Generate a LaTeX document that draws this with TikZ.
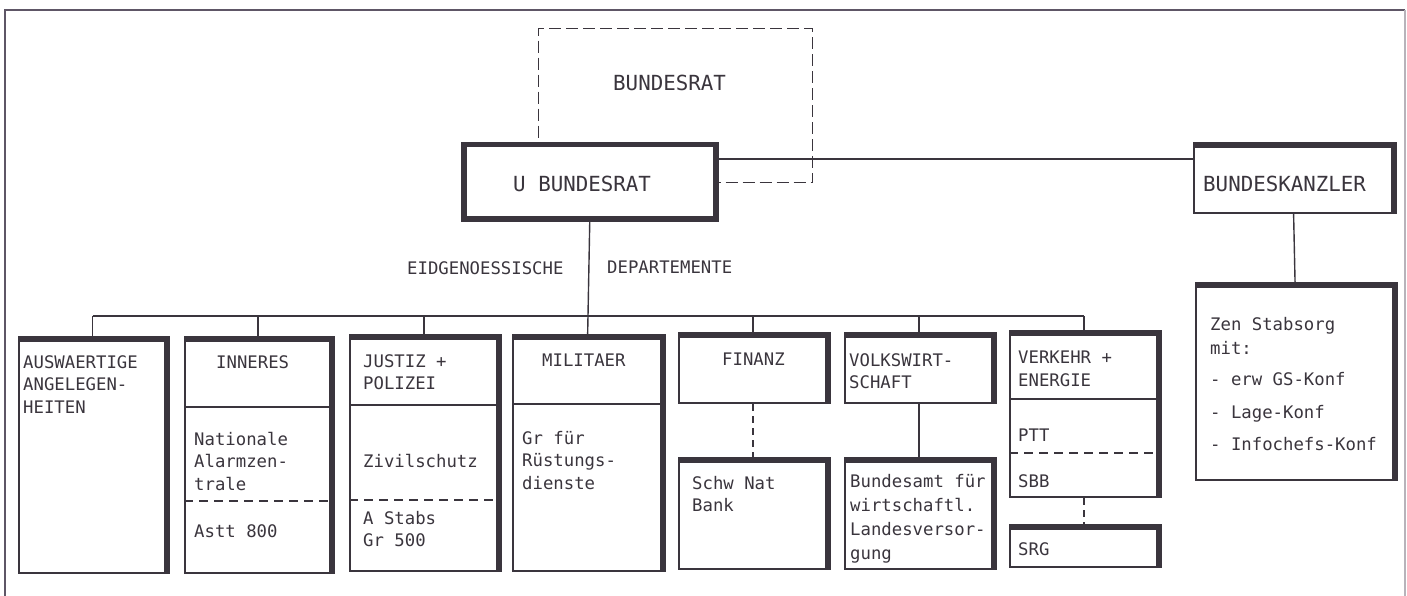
\documentclass[tikz,border=0pt]{standalone}
\usepackage{fontspec}
\setmonofont{DejaVu Sans Mono}
\usepackage{xcolor}
\usepackage{tikz}

\definecolor{ink}{HTML}{3A353D}
\definecolor{framegray}{HTML}{5E5666}

\begin{document}
\begin{tikzpicture}[x=1pt, y=-1pt,
  box/.style={draw=ink, line width=2.2pt, fill=white, inner sep=0pt, anchor=north west},
  heavy/.style={draw=ink, line width=5.5pt},
  link/.style={draw=ink, line width=1.4pt},
  split/.style={draw=ink, line width=1.6pt, dash pattern=on 9pt off 6pt},
  big/.style={anchor=north west, inner sep=0pt, text=ink, font=\ttfamily\fontsize{20.8}{25}\selectfont},
  small/.style={anchor=north west, inner sep=0pt, text=ink, align=left, font=\ttfamily\fontsize{17.3}{22.5}\selectfont}]
  \useasboundingbox (0,0) rectangle (1407,596);
  % frame of the page
  \draw[framegray, line width=1.3pt] (5,596) -- (5,10) -- (1405,10);
  \draw[framegray!45, line width=1.1pt] (1405,10) -- (1405,596);
  % Bundesrat, partly hidden behind the U Bundesrat
  \node[box, draw=ink, line width=1.4pt, dash pattern=on 12pt off 5pt, fill=none,
    minimum width=274pt, minimum height=154pt] (br) at (538,28) {};
  \coordinate (tie) at (0,159);
  \coordinate (bus) at (0,316);
  % the boxes
  \node[box, line width=5.5pt, minimum width=252pt, minimum height=74pt] (ubr) at (461,142) {};
  \node[box, minimum width=199pt, minimum height=67pt] (kanzler) at (1193,145) {};
  \node[box, minimum width=198pt, minimum height=194pt] (stabsorg) at (1195,285) {};
  \node[box, minimum width=147pt, minimum height=233pt] (ausw) at (18,339) {};
  \node[box, minimum width=146pt, minimum height=67pt] (inneresHead) at (184,339) {};
  \node[box, minimum width=146pt, minimum height=166pt] (inneresBody) at (184,406) {};
  \node[box, minimum width=148pt, minimum height=67pt] (justizHead) at (349,337) {};
  \node[box, minimum width=148pt, minimum height=166pt] (justizBody) at (349,404) {};
  \node[box, minimum width=149pt, minimum height=66pt] (militaerHead) at (512,337) {};
  \node[box, minimum width=149pt, minimum height=167pt] (militaerBody) at (512,403) {};
  \node[box, minimum width=148pt, minimum height=67pt] (finanzHead) at (678,335) {};
  \node[box, minimum width=148pt, minimum height=108pt] (snb) at (678,460) {};
  \node[box, minimum width=148pt, minimum height=67pt] (volkswHead) at (844,335) {};
  \node[box, minimum width=148pt, minimum height=108pt] (bfwl) at (844,460) {};
  \node[box, minimum width=148pt, minimum height=65pt] (verkehrHead) at (1009,333) {};
  \node[box, minimum width=148pt, minimum height=98pt] (verkehrBody) at (1009,398) {};
  \node[box, minimum width=148pt, minimum height=39pt] (srg) at (1009,527) {};
  % connectors
  \draw[link] (ubr.east |- tie) -- (kanzler.west |- tie);
  \draw[link] (kanzler.south) -- (stabsorg.north);
  \draw[link] (ausw.north |- bus) -- (verkehrHead.north |- bus);
  \draw[link] (ubr.south) -- (militaerHead.north);
  \foreach \d in {ausw, inneresHead, justizHead, finanzHead, volkswHead, verkehrHead}
    \draw[link] (\d.north |- bus) -- (\d.north);
  \draw[link, dash pattern=on 7pt off 5pt] (finanzHead.south) -- (snb.north);
  \draw[link] (volkswHead.south) -- (bfwl.north);
  \draw[link, dash pattern=on 7pt off 5pt] (verkehrBody.south) -- (srg.north);
  % heavy top and right edges
  \foreach \t/\b in {kanzler/kanzler, stabsorg/stabsorg, ausw/ausw, inneresHead/inneresBody,
      justizHead/justizBody, militaerHead/militaerBody, finanzHead/finanzHead,
      snb/snb, volkswHead/volkswHead, bfwl/bfwl, verkehrHead/verkehrBody, srg/srg}
    \draw[heavy] (\t.north west) -- (\t.north east) -- (\b.south east);
  % dashed splits inside the departments
  \draw[split] (inneresBody.west |- 0,501) -- (inneresBody.east |- 0,501);
  \draw[split] (justizBody.west |- 0,500) -- (justizBody.east |- 0,500);
  \draw[split] (verkehrBody.west |- 0,453) -- (verkehrBody.east |- 0,453);
  % texts
  \node[big] (brText) at (613,75) {BUNDESRAT};
  \node[big] (ubrText) at (513,176) {U BUNDESRAT};
  \node[big] (kanzlerText) at (1203,176) {BUNDESKANZLER};
  \node[small] (eidgText) at (407,261) {EIDGENOESSISCHE};
  \node[small] (depText) at (607,261) {DEPARTEMENTE};
  \node[small] (auswText) at (23,355) {AUSWAERTIGE\\ANGELEGEN-\\HEITEN};
  \node[small] (inneresText) at (216,355) {INNERES};
  \node[small] (nazText) at (194,432) {Nationale\\Alarmzen-\\trale};
  \node[small] (asttText) at (194,524) {Astt 800};
  \node[small] (justizText) at (363,354) {JUSTIZ +\\POLIZEI};
  \node[small] (zsText) at (363,454) {Zivilschutz};
  \node[small] (stabsText) at (363,511) {A Stabs\\Gr 500};
  \node[small] (militaerText) at (542,354) {MILITAER};
  \node[small] (grdText) at (522,431) {Gr für\\Rüstungs-\\dienste};
  \node[small] (finanzText) at (722,353) {FINANZ};
  \node[small] (snbText) at (692,476) {Schw Nat\\Bank};
  \node[small] (volkswText) at (849,353) {VOLKSWIRT-\\SCHAFT};
  \node[small, font=\ttfamily\fontsize{17.3}{24}\selectfont] (bfwlText) at (850,474)
    {Bundesamt für\\wirtschaftl.\\Landesversor-\\gung};
  \node[small] (verkehrText) at (1018,351) {VERKEHR +\\ENERGIE};
  \node[small] (pttText) at (1018,429) {PTT};
  \node[small] (sbbText) at (1018,474) {SBB};
  \node[small] (srgText) at (1018,542) {SRG};
  \node[small] (zenText) at (1210,317)
    {Zen Stabsorg\\[1.5pt]mit:\\[8.5pt]- erw GS-Konf\\[11pt]- Lage-Konf\\[9.5pt]- Infochefs-Konf};
\end{tikzpicture}
\end{document}
